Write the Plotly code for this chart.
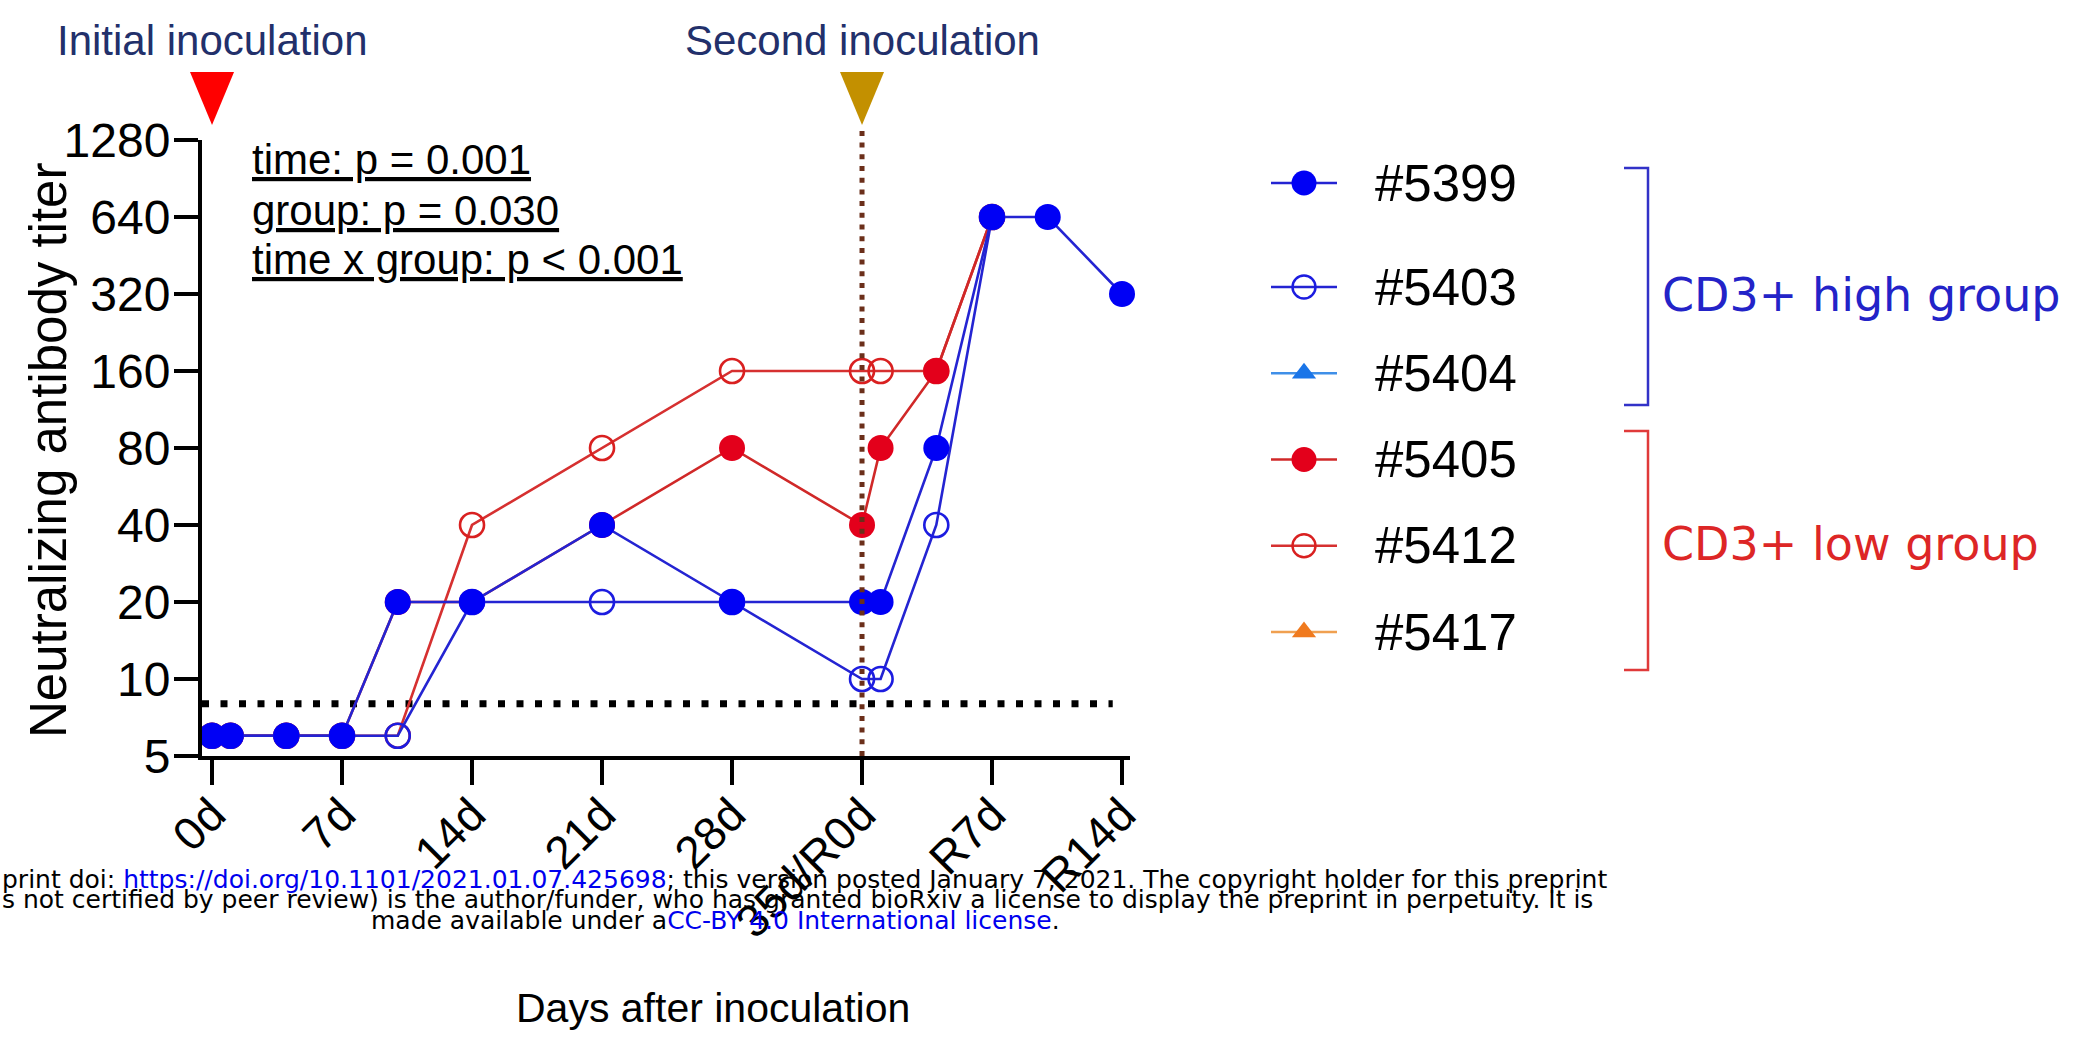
import plotly.graph_objects as go
import math

W, H = 2081, 1040

# ---- data -------------------------------------------------------------
days = [0, 1, 4, 7, 10, 14, 21, 28, 35, 36, 39, 42, 45, 49]
tick_days = [0, 7, 14, 21, 28, 35, 42, 49]
tick_labels = ["0d", "7d", "14d", "21d", "28d", "35d/R0d", "R7d", "R14d"]
titer_ticks = [5, 10, 20, 40, 80, 160, 320, 640, 1280]

titer_5399 = [6, 6, 6, 6, 20, 20, 40, 20, 20, 20, 80, 640, 640, 320]
titer_5403 = [6, 6, 6, 6, 6, 20, 20, 20, 10, 10, 40, 640, None, None]
titer_5404 = [None, None, None, None, None, None, None, None, None, None, None, None, None, None]
titer_5405 = [6, 6, 6, 6, 20, 20, 40, 80, 40, 80, 160, 640, None, None]
titer_5412 = [6, 6, 6, 6, 6, 40, 80, 160, 160, 160, 160, 640, None, None]
titer_5417 = [None, None, None, None, None, None, None, None, None, None, None, None, None, None]

animals = ["#5399", "#5403", "#5404", "#5405", "#5412", "#5417"]
detection_limit = 8
initial_day = 0
second_day = 35
stats_lines = ["time: p = 0.001", "group: p = 0.030", "time x group: p < 0.001"]

# ---- styles -----------------------------------------------------------
FONT = "Liberation Sans, Arial, sans-serif"
WIDE = "DejaVu Sans, Verdana, sans-serif"
styles = {
    "#5399": dict(line="#2424d2", marker="#0000f5", symbol="circle", size=26),
    "#5403": dict(line="#2424d2", marker="#1c1ce0", symbol="circle-open", size=24),
    "#5404": dict(line="#3f8fe8", marker="#1a75e8", symbol="triangle-up", size=22),
    "#5405": dict(line="#d02828", marker="#e3001b", symbol="circle", size=26),
    "#5412": dict(line="#d63030", marker="#d92020", symbol="circle-open", size=24),
    "#5417": dict(line="#f0a050", marker="#f07a1e", symbol="triangle-up", size=22),
}
series = {
    "#5399": titer_5399, "#5403": titer_5403, "#5404": titer_5404,
    "#5405": titer_5405, "#5412": titer_5412, "#5417": titer_5417,
}

# main plot area (pixels)
PX_L, PX_R, PX_T, PX_B = 202, 1130, 140, 756
x_range = [-0.54, 49.43]


def day_to_px(d):
    return PX_L + (d - x_range[0]) / (x_range[1] - x_range[0]) * (PX_R - PX_L)


fig = go.Figure()

# limit of detection
fig.add_trace(go.Scatter(
    x=[x_range[0], 48.5], y=[detection_limit, detection_limit], mode="lines",
    line=dict(color="black", width=7, dash="7px,11.5px"),
    hoverinfo="skip", showlegend=False))

# animals: low group first so the high group sits on top
for name in ["#5417", "#5412", "#5405", "#5404", "#5403", "#5399"]:
    st = styles[name]
    open_sym = st["symbol"].endswith("open")
    fig.add_trace(go.Scatter(
        x=days, y=series[name], mode="lines+markers", name=name,
        connectgaps=False, cliponaxis=False,
        line=dict(color=st["line"], width=2.6),
        marker=dict(symbol=st["symbol"], size=st["size"], color=st["marker"],
                    line=dict(color=st["marker"], width=2.6 if open_sym else 0)),
        showlegend=False))

# ---- hand-built legend on a pixel overlay --------------------------------
LEG_X0, LEG_X1, LEG_TXT = 1271, 1337, 1373
leg_rows = [183] + [287 + 86.25 * i for i in range(5)]
for name, ry in zip(animals, leg_rows):
    st = styles[name]
    open_sym = st["symbol"].endswith("open")
    fig.add_trace(go.Scatter(
        x=[LEG_X0, LEG_X1], y=[ry, ry], mode="lines", xaxis="x2", yaxis="y2",
        line=dict(color=st["line"], width=2.6), hoverinfo="skip", showlegend=False))
    fig.add_trace(go.Scatter(
        x=[(LEG_X0 + LEG_X1) / 2], y=[ry], mode="markers", xaxis="x2", yaxis="y2",
        marker=dict(symbol=st["symbol"], size=st["size"] - 1, color=st["marker"],
                    line=dict(color=st["marker"], width=2.4 if open_sym else 0)),
        hoverinfo="skip", showlegend=False))

annotations = []
for name, ry in zip(animals, leg_rows):
    annotations.append(dict(
        x=LEG_TXT, y=ry, xref="x2", yref="y2", text=name, showarrow=False,
        xanchor="left", yanchor="middle", font=dict(family=FONT, size=51, color="black")))

# group brackets and labels
shapes = []
groups = [("CD3+ high group", 168, 405, 295, "#3232c8", "#2323c8"),
          ("CD3+ low group", 431, 670, 544, "#e03a3a", "#dd2626")]
for label, y0, y1, ty, bcol, tcol in groups:
    shapes.append(dict(type="path", xref="x2", yref="y2",
                       path=f"M1624,{y0} L1648,{y0} L1648,{y1} L1624,{y1}",
                       line=dict(color=bcol, width=2.5)))
    annotations.append(dict(
        x=1660, y=ty, xref="x2", yref="y2", text=label, showarrow=False,
        xanchor="left", yanchor="middle", font=dict(family=WIDE, size=46, color=tcol)))

# inoculation markers
for day, col, label in [(initial_day, "#ff0000", "Initial inoculation"),
                        (second_day, "#c39000", "Second inoculation")]:
    cx = day_to_px(day)
    shapes.append(dict(type="path", xref="x2", yref="y2",
                       path=f"M{cx - 22},72 L{cx + 22},72 L{cx},125 Z", fillcolor=col,
                       line=dict(color=col, width=0)))
    annotations.append(dict(
        x=cx, y=40, xref="x2", yref="y2", text=label, showarrow=False,
        xanchor="center", yanchor="middle", font=dict(family=FONT, size=42, color="#22306b")))

shapes.append(dict(type="line", xref="x", yref="y domain", x0=second_day, x1=second_day,
                   y0=0, y1=1.015, layer="above",
                   line=dict(color="#6b2f1a", width=5, dash="5px,6.7px")))

# statistics
for txt, cy in zip(stats_lines, [159, 210, 259]):
    annotations.append(dict(
        x=250, y=cy, xref="x2", yref="y2", text=f"<u>{txt}</u>", showarrow=False,
        xanchor="left", yanchor="middle", font=dict(family=FONT, size=42, color="black")))

# axis titles
annotations.append(dict(x=48, y=451, xref="x2", yref="y2", text="Neutralizing antibody titer",
                        textangle=-90, showarrow=False, xanchor="center", yanchor="middle",
                        font=dict(family=FONT, size=51, color="black")))
annotations.append(dict(x=713, y=1008, xref="x2", yref="y2", text="Days after inoculation",
                        showarrow=False, xanchor="center", yanchor="middle",
                        font=dict(family=FONT, size=41, color="black")))

# preprint footer
blue = "#0000ee"
footer = [
    (0, 879, "left", f"print doi: <span style='color:{blue}'>https://doi.org/10.1101/2021.01.07.425698</span>; this version posted January 7, 2021. The copyright holder for this preprint"),
    (0, 899, "left", "s not certified by peer review) is the author/funder, who has granted bioRxiv a license to display the preprint in perpetuity. It is"),
    (715, 920, "center", f"made available under a<span style='color:{blue}'>CC-BY 4.0 International license</span>."),
]
for fx, fy, anchor, txt in footer:
    annotations.append(dict(x=fx, y=fy, xref="x2", yref="y2", text=txt, showarrow=False,
                            xanchor=anchor, yanchor="middle",
                            font=dict(family=WIDE, size=25, color="black")))

fig.update_layout(
    width=W, height=H, margin=dict(l=0, r=0, t=0, b=0),
    paper_bgcolor="white", plot_bgcolor="rgba(0,0,0,0)",
    showlegend=False, hovermode=False,
    xaxis=dict(domain=[PX_L / W, PX_R / W], range=x_range, tickvals=tick_days,
               ticktext=tick_labels, tickangle=-45, ticks="outside", ticklen=25,
               tickwidth=4, tickcolor="black", showline=True, linewidth=4,
               linecolor="black", showgrid=False, zeroline=False, automargin=False,
               ticklabelstandoff=-16,
               tickfont=dict(family=FONT, size=46, color="black")),
    yaxis=dict(domain=[1 - PX_B / H, 1 - PX_T / H], type="log",
               range=[math.log10(titer_ticks[0]), math.log10(titer_ticks[-1])],
               tickvals=titer_ticks, ticktext=[str(v) for v in titer_ticks],
               ticks="outside", ticklen=24, tickwidth=4, tickcolor="black",
               showline=True, linewidth=4, linecolor="black", showgrid=False,
               zeroline=False, automargin=False, ticklabelstandoff=-6,
               tickfont=dict(family=FONT, size=48, color="black")),
    xaxis2=dict(domain=[0, 1], range=[0, W], visible=False, anchor="y2", fixedrange=True),
    yaxis2=dict(domain=[0, 1], range=[H, 0], visible=False, anchor="x2", fixedrange=True),
    shapes=shapes, annotations=annotations,
)

fig.write_html("out.html")
